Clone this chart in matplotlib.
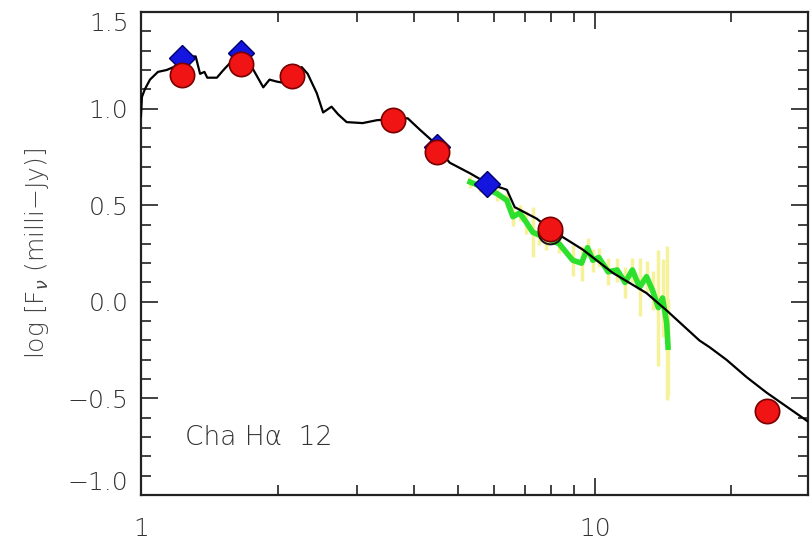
import matplotlib
matplotlib.use("Agg")
import matplotlib.pyplot as plt
from matplotlib.ticker import FixedLocator, NullFormatter

plt.rcParams['font.family'] = ['DejaVu Sans']
plt.rcParams['font.weight'] = 'light'
plt.rcParams['mathtext.fontset'] = 'dejavusans'

# ---- model SED (black line) ----
model_wl = [1.00, 1.005, 1.02, 1.047, 1.09, 1.14, 1.18, 1.23, 1.29, 1.32, 1.35, 1.38, 1.40,
            1.47, 1.52, 1.57, 1.65, 1.70, 1.76, 1.86, 1.92, 1.99, 2.10, 2.15, 2.26, 2.33,
            2.44, 2.52, 2.63, 2.72, 2.84, 3.08, 3.31, 3.59, 3.87, 4.12, 4.40, 4.49, 4.79,
            5.31, 5.78, 6.40, 6.66, 7.45, 7.98, 9.41, 10.95, 13.0, 14.4, 17.0, 17.9, 19.5,
            21.6, 23.9, 29.5]
model_flux = [0.96, 1.06, 1.10, 1.15, 1.19, 1.20, 1.215, 1.25, 1.27, 1.27, 1.18, 1.19, 1.16,
              1.16, 1.20, 1.235, 1.26, 1.25, 1.21, 1.11, 1.15, 1.14, 1.13, 1.16, 1.215, 1.18,
              1.08, 0.98, 1.01, 0.97, 0.93, 0.925, 0.94, 0.945, 0.95, 0.89, 0.83, 0.80, 0.72,
              0.665, 0.615, 0.58, 0.49, 0.43, 0.375, 0.27, 0.15, 0.045, -0.045, -0.20, -0.235,
              -0.30, -0.39, -0.47, -0.62]

# ---- IRS spectrum (green) with errors (yellow) ----
irs_wl = [5.31, 5.58, 6.09, 6.40, 6.60, 6.83, 7.07, 7.30, 7.55, 7.82, 8.35, 8.94, 9.35,
          9.64, 9.90, 10.2, 10.7, 11.2, 11.66, 12.1, 12.55, 13.0, 13.4, 13.8, 14.1, 14.4, 14.5]
irs_flux = [0.62, 0.60, 0.56, 0.525, 0.44, 0.46, 0.41, 0.36, 0.345, 0.33, 0.30, 0.215, 0.20,
            0.28, 0.215, 0.23, 0.155, 0.165, 0.10, 0.165, 0.075, 0.13, 0.06, -0.03, 0.02,
            -0.11, -0.235]
irs_err = [0.03, 0.03, 0.04, 0.04, 0.05, 0.04, 0.06, 0.13, 0.05, 0.06, 0.05, 0.08, 0.09,
           0.05, 0.06, 0.05, 0.07, 0.06, 0.08, 0.06, 0.15, 0.08, 0.10, 0.30, 0.20, 0.40, 0.25]

# ---- photometry ----
phot_wl = [1.23, 1.66, 2.15, 3.59, 4.49, 7.98, 23.9]
phot_flux = [1.174, 1.23, 1.17, 0.94, 0.775, 0.375, -0.567]
diam_wl = [1.23, 1.66, 4.49, 5.78]
diam_flux = [1.26, 1.29, 0.80, 0.61]
ring_wl = [7.98]
ring_flux = [0.36]

fig = plt.figure(figsize=(8.1, 5.43), dpi=100)
ax = fig.add_axes([0.174, 0.0884, 0.8236, 0.8895])

ax.vlines(irs_wl, [f - e for f, e in zip(irs_flux, irs_err)],
          [f + e for f, e in zip(irs_flux, irs_err)], color='#f6f29a', lw=2.5, zorder=1)
ax.plot(irs_wl, irs_flux, color='#2ee02e', lw=4, zorder=2)
ax.plot(model_wl, model_flux, color='black', lw=1.6, zorder=3)
ax.plot(ring_wl, ring_flux, 'o', ms=17, mfc='none', mec='#1a1a1a', mew=1.5, zorder=4)
ax.plot(diam_wl, diam_flux, 'D', ms=13, color='#1515e0', mec='#00006a', mew=1, zorder=5)
ax.plot(phot_wl, phot_flux, 'o', ms=17.5, color='#f01414', mec='#7a0000', mew=1.2, zorder=6)

ax.set_xscale('log')
ax.set_xlim(1.0, 29.5)
ax.set_ylim(-1.0, 1.5)

ax.xaxis.set_major_locator(FixedLocator([1, 10]))
ax.xaxis.set_minor_locator(FixedLocator([2, 3, 4, 5, 6, 7, 8, 9, 20]))
ax.xaxis.set_minor_formatter(NullFormatter())
ax.set_xticks([1, 10])
ax.set_xticklabels(['1', '10'])
ax.set_yticks([-1.0, -0.5, 0.0, 0.5, 1.0, 1.5])
ax.set_yticklabels(['\u22121.0', '\u22120.5', '0.0', '0.5', '1.0', '1.5'])
ax.yaxis.set_minor_locator(FixedLocator([v / 10 for v in range(-10, 16)]))

ax.tick_params(which='both', direction='in', top=True, right=True, width=1.3,
               labelsize=18, colors='#333333')
ax.tick_params(which='major', length=12)
ax.tick_params(which='minor', length=7)
ax.tick_params(axis='x', pad=16)
ax.tick_params(axis='y', pad=9)
ylabs = ax.get_yticklabels()
ylabs[0].set_va('bottom')
ylabs[-1].set_va('top')

for s in ax.spines.values():
    s.set_linewidth(1.6)
    s.set_color('#222222')

ax.set_ylabel('log [F$_\\nu$ (milli\u2212Jy)]', fontsize=18, color='#444444',
              fontweight='light', labelpad=12)
ax.text(1.25, -0.70, 'Cha H\u03b1  12', fontsize=19, color='#333333', va='center')

fig.savefig('out.png', dpi=100)
